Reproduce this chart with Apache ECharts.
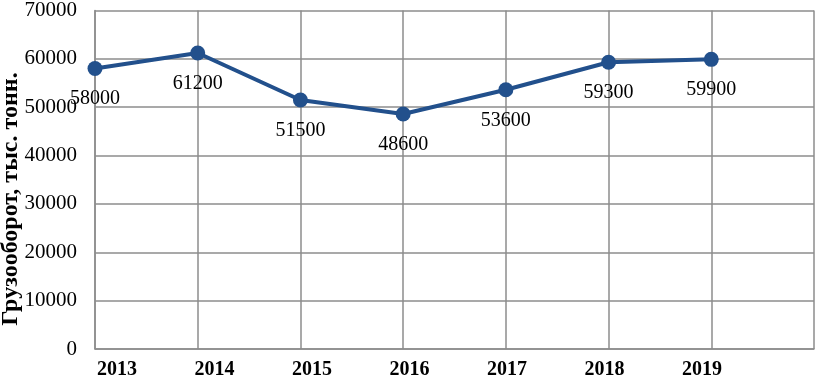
<!DOCTYPE html>
<html><head><meta charset="utf-8">
<script src="https://cdn.jsdelivr.net/npm/echarts@6/dist/echarts.min.js"></script>
<style>html,body{margin:0;padding:0;background:#fff}#c{width:817px;height:380px}</style>
</head><body><div id="c"></div>
<script>
const years = ['2013','2014','2015','2016','2017','2018','2019'];
const values = [58000, 61200, 51500, 48600, 53600, 59300, 59900];
const yTicks = [0,10000,20000,30000,40000,50000,60000,70000];
const yName = 'Грузооборот, тыс. тонн.';

const font = '"Liberation Serif","Times New Roman",serif';
const grid = '#8c8c8c';
const chart = echarts.init(document.getElementById('c'));
chart.setOption({
  animation:false,
  grid:[
    {left:95,right:3,top:7,bottom:31},
    {left:117,right:115,top:7,bottom:31}
  ],
  xAxis:[
    {gridIndex:0,type:'category',data:years.concat(['']),boundaryGap:false,
     axisLine:{lineStyle:{color:grid,width:1.5}},axisTick:{show:false},axisLabel:{show:false},
     splitLine:{show:true,lineStyle:{color:grid,width:1.5}}},
    {gridIndex:1,type:'category',data:years,boundaryGap:false,
     axisLine:{show:false},axisTick:{show:false},splitLine:{show:false},
     axisLabel:{show:true,margin:15,fontFamily:font,fontSize:20,fontWeight:'bold',color:'#000',interval:0}}
  ],
  yAxis:[
    {gridIndex:0,type:'value',min:yTicks[0],max:yTicks[yTicks.length-1],interval:10000,
     axisLine:{show:true,lineStyle:{color:grid,width:1.5}},axisTick:{show:false},
     axisLabel:{margin:18,fontFamily:font,fontSize:21,color:'#000',formatter:v=>String(v)},
     splitLine:{show:true,lineStyle:{color:grid,width:1.5}}},
    {gridIndex:1,type:'value',show:false,min:0,max:70000}
  ],
  graphic:[{
    type:'text',x:11,y:199,rotation:Math.PI/2,
    style:{text:yName,x:0,y:0,align:'center',verticalAlign:'middle',
      font:'bold 24px "Liberation Serif","Times New Roman",serif',fill:'#000'}
  }],
  series:[{
    type:'line',xAxisIndex:0,yAxisIndex:0,
    data:values,
    symbol:'circle',symbolSize:15,
    lineStyle:{color:'#22508c',width:4},
    itemStyle:{color:'#22508c'},
    label:{show:true,position:'bottom',distance:13,fontFamily:font,fontSize:20,color:'#000'}
  }]
});
</script></body></html>
